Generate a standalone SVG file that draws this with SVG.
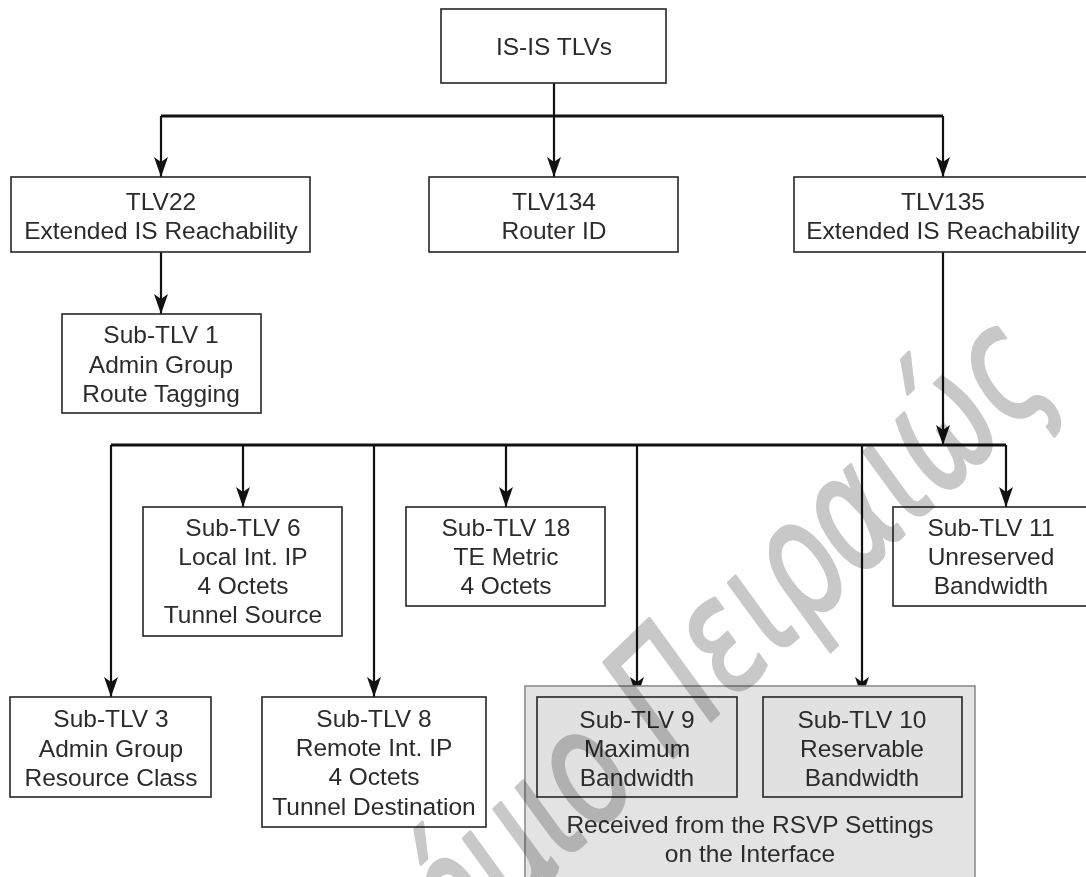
<svg xmlns="http://www.w3.org/2000/svg" width="1086" height="877" viewBox="0 0 1086 877">
  <style>
    .box { fill: #ffffff; stroke: #262626; stroke-width: 1.6; }
    .shade { fill: #e1e1e1; stroke: #262626; stroke-width: 1.6; }
    .panel { fill: #e3e3e3; stroke: #8c8c8c; stroke-width: 1.6; }
    .lbl { font-family: "Liberation Sans", Arial, sans-serif; font-size: 24.5px; fill: #2b2b2b; text-anchor: middle; }
    .bus { fill: none; stroke: #111111; stroke-width: 3; }
    .arrow { fill: none; stroke: #111111; stroke-width: 2.2; marker-end: url(#head); }
    .mark { font-family: "DejaVu Sans", sans-serif; font-style: italic; font-weight: normal; font-size: 160px; fill: #c8c8c8; stroke: #c8c8c8; stroke-width: 3; stroke-linejoin: round; mix-blend-mode: multiply; }
  </style>
  <defs>
    <marker id="head" viewBox="0 0 20 14" refX="20" refY="7" markerWidth="20" markerHeight="14" markerUnits="userSpaceOnUse" orient="auto">
      <path d="M0,0 L20,7 L0,14 L5,7 Z" fill="#111111"/>
    </marker>
  </defs>

  <rect width="1086" height="877" fill="#ffffff"/>

  <!-- connectors -->
  <g id="connectors">
    <path class="arrow" d="M554,83 V177"/>
    <path class="bus" d="M161,116 H943"/>
    <path class="arrow" d="M161,116 V177"/>
    <path class="arrow" d="M943,116 V177"/>
    <path class="arrow" d="M161,252 V314"/>
    <path class="arrow" d="M943,252 V445"/>
    <path class="bus" d="M111,445 H1006"/>
    <path class="arrow" d="M111,445 V697"/>
    <path class="arrow" d="M243,445 V507"/>
    <path class="arrow" d="M374,445 V697"/>
    <path class="arrow" d="M506,445 V507"/>
    <path class="arrow" d="M637,445 V697"/>
    <path class="arrow" d="M862,445 V697"/>
    <path class="arrow" d="M1006,445 V507"/>
  </g>

  <g id="root">
    <rect class="box" x="441" y="9" width="225" height="74"/>
    <text class="lbl" x="554" y="55">IS-IS TLVs</text>
  </g>

  <g id="tlv22">
    <rect class="box" x="11" y="177" width="299" height="75"/>
    <text class="lbl" x="161" y="210">TLV22</text>
    <text class="lbl" x="161" y="239">Extended IS Reachability</text>
  </g>

  <g id="tlv134">
    <rect class="box" x="429" y="177" width="249" height="75"/>
    <text class="lbl" x="554" y="210">TLV134</text>
    <text class="lbl" x="554" y="239">Router ID</text>
  </g>

  <g id="tlv135">
    <rect class="box" x="794" y="177" width="300" height="75"/>
    <text class="lbl" x="943" y="210">TLV135</text>
    <text class="lbl" x="943" y="239">Extended IS Reachability</text>
  </g>

  <g id="sub1">
    <rect class="box" x="62" y="314" width="199" height="99"/>
    <text class="lbl" x="161" y="343">Sub-TLV 1</text>
    <text class="lbl" x="161" y="372.5">Admin Group</text>
    <text class="lbl" x="161" y="402">Route Tagging</text>
  </g>

  <g id="sub6">
    <rect class="box" x="143" y="507" width="199" height="129"/>
    <text class="lbl" x="243" y="536">Sub-TLV 6</text>
    <text class="lbl" x="243" y="565">Local Int. IP</text>
    <text class="lbl" x="243" y="594">4 Octets</text>
    <text class="lbl" x="243" y="623">Tunnel Source</text>
  </g>

  <g id="sub18">
    <rect class="box" x="406" y="507" width="199" height="99"/>
    <text class="lbl" x="506" y="536">Sub-TLV 18</text>
    <text class="lbl" x="506" y="565">TE Metric</text>
    <text class="lbl" x="506" y="594">4 Octets</text>
  </g>

  <g id="sub11">
    <rect class="box" x="893" y="507" width="200" height="99"/>
    <text class="lbl" x="991" y="536">Sub-TLV 11</text>
    <text class="lbl" x="991" y="565">Unreserved</text>
    <text class="lbl" x="991" y="594">Bandwidth</text>
  </g>

  <g id="sub3">
    <rect class="box" x="10" y="697" width="201" height="100"/>
    <text class="lbl" x="111" y="727">Sub-TLV 3</text>
    <text class="lbl" x="111" y="756.5">Admin Group</text>
    <text class="lbl" x="111" y="786">Resource Class</text>
  </g>

  <g id="sub8">
    <rect class="box" x="262" y="697" width="224" height="130"/>
    <text class="lbl" x="374" y="727">Sub-TLV 8</text>
    <text class="lbl" x="374" y="756">Remote Int. IP</text>
    <text class="lbl" x="374" y="785">4 Octets</text>
    <text class="lbl" x="374" y="815">Tunnel Destination</text>
  </g>

  <g id="rsvp">
    <rect class="panel" x="525" y="686" width="450" height="200"/>
    <text class="lbl" x="750" y="833">Received from the RSVP Settings</text>
    <text class="lbl" x="750" y="862">on the Interface</text>
  </g>

  <g id="sub9">
    <rect class="shade" x="537" y="697" width="200" height="100"/>
    <text class="lbl" x="637" y="728">Sub-TLV 9</text>
    <text class="lbl" x="637" y="757">Maximum</text>
    <text class="lbl" x="637" y="786">Bandwidth</text>
  </g>

  <g id="sub10">
    <rect class="shade" x="763" y="697" width="199" height="100"/>
    <text class="lbl" x="862" y="728">Sub-TLV 10</text>
    <text class="lbl" x="862" y="757">Reservable</text>
    <text class="lbl" x="862" y="786">Bandwidth</text>
  </g>

  <!-- watermark -->
  <text class="mark" text-anchor="end" transform="translate(1059,385) rotate(-44) scale(0.72,1)">Πανεπιστήμιο Πειραιώς</text>
</svg>
